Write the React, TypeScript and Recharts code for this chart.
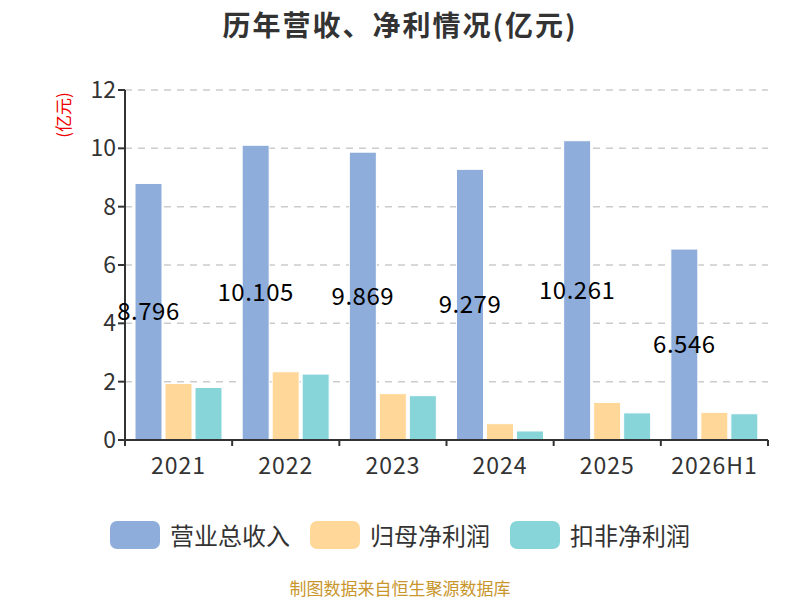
import React from 'react';
import { BarChart, Bar, XAxis, YAxis, CartesianGrid, LabelList } from 'recharts';

const years = ['2021', '2022', '2023', '2024', '2025', '2026H1'];
const revenue = [8.796, 10.105, 9.869, 9.279, 10.261, 6.546];
const netProfit = [1.94, 2.34, 1.59, 0.56, 1.29, 0.95];
const deductedProfit = [1.8, 2.26, 1.52, 0.31, 0.93, 0.9];
const yTicks = [0, 2, 4, 6, 8, 10, 12];

const seriesNames = ['营业总收入', '归母净利润', '扣非净利润'];
const colors = ['#8eaddb', '#ffd899', '#88d5d9'];

const chartData = years.map((year, i) => ({
  year,
  revenue: revenue[i],
  netProfit: netProfit[i],
  deductedProfit: deductedProfit[i],
}));

const FONT = '"Microsoft YaHei", "Noto Sans CJK SC", "Noto Sans", sans-serif';
const PLOT_WIDTH = 643;
const STEP = PLOT_WIDTH / years.length;

function XTick(props: any) {
  const { x, y, payload, index } = props;
  const last = index === years.length - 1;
  return (
    <g>
      <line x1={x - STEP / 2} y1={y - 8} x2={x - STEP / 2} y2={y - 2} stroke="#333" strokeWidth={2} />
      {last && <line x1={x + STEP / 2} y1={y - 8} x2={x + STEP / 2} y2={y - 2} stroke="#333" strokeWidth={2} />}
      <text x={x} y={y + 26} textAnchor="middle" fill="#333" fontSize={23} letterSpacing={1} fontFamily={FONT}>
        {payload.value}
      </text>
    </g>
  );
}

export default function App() {
  return (
    <div style={{ position: 'absolute', left: 0, top: 0, width: 800, height: 600, background: '#fff', fontFamily: FONT }}>
      <div
        style={{
          position: 'absolute',
          top: 8,
          width: 800,
          lineHeight: '32px',
          textAlign: 'center',
          fontSize: 28,
          letterSpacing: 2,
          fontWeight: 'bold',
          color: '#333',
        }}
      >
        历年营收、净利情况(亿元)
      </div>
      <div
        style={{
          position: 'absolute',
          left: 62,
          top: 115,
          transform: 'translate(-50%, -50%) rotate(-90deg)',
          color: '#e00',
          fontSize: 17,
          whiteSpace: 'nowrap',
        }}
      >
        (亿元)
      </div>
      <BarChart
        width={800}
        height={600}
        data={chartData}
        margin={{ top: 90, right: 32, left: 0, bottom: 0 }}
        barCategoryGap={10}
        barGap={3}
      >
        <CartesianGrid vertical={false} stroke="#ccc" strokeDasharray="7 6" strokeWidth={1.5} />
        <XAxis
          dataKey="year"
          axisLine={{ stroke: '#333', strokeWidth: 2 }}
          tickLine={false}
          tick={<XTick />}
          height={160}
          interval={0}
        />
        <YAxis
          width={125}
          domain={[0, 12]}
          ticks={yTicks}
          axisLine={{ stroke: '#333', strokeWidth: 2 }}
          tickLine={{ stroke: '#333', strokeWidth: 2 }}
          tickSize={7}
          tick={{ fill: '#333', fontSize: 23, fontFamily: FONT }}
        />
        <Bar dataKey="revenue" name={seriesNames[0]} fill={colors[0]} stroke="#fff" strokeWidth={1} isAnimationActive={false}>
          <LabelList dataKey="revenue" position="center" fill="#000" fontSize={24} letterSpacing={0.5} fontFamily={FONT} />
        </Bar>
        <Bar dataKey="netProfit" name={seriesNames[1]} fill={colors[1]} stroke="#fff" strokeWidth={1} isAnimationActive={false} />
        <Bar dataKey="deductedProfit" name={seriesNames[2]} fill={colors[2]} stroke="#fff" strokeWidth={1} isAnimationActive={false} />
      </BarChart>
      <div
        style={{
          position: 'absolute',
          top: 521,
          width: 800,
          display: 'flex',
          justifyContent: 'center',
          alignItems: 'center',
        }}
      >
        {seriesNames.map((name, i) => (
          <div key={name} style={{ display: 'flex', alignItems: 'center', margin: '0 10px' }}>
            <div style={{ width: 50, height: 28, borderRadius: 7, background: colors[i], marginRight: 10 }} />
            <span style={{ fontSize: 24, color: '#333', lineHeight: '28px' }}>{name}</span>
          </div>
        ))}
      </div>
      <div
        style={{
          position: 'absolute',
          top: 578,
          width: 800,
          lineHeight: '20px',
          textAlign: 'center',
          fontSize: 17,
          color: '#c8962d',
        }}
      >
        制图数据来自恒生聚源数据库
      </div>
    </div>
  );
}
